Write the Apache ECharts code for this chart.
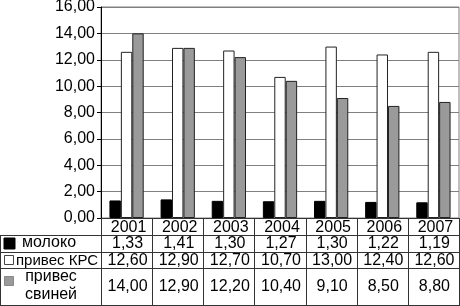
<!DOCTYPE html>
<html><head><meta charset="utf-8">
<script src="https://cdn.jsdelivr.net/npm/echarts@6/dist/echarts.min.js"></script>
<style>html,body{margin:0;padding:0;background:#fff}#c{width:460px;height:306px}</style>
</head><body><div id="c"></div>
<script>
var years = ['2001','2002','2003','2004','2005','2006','2007'];
var seriesNames = ['молоко','привес КРС','привес свиней'];
var milk = [1.33,1.41,1.30,1.27,1.30,1.22,1.19];
var cattle = [12.60,12.90,12.70,10.70,13.00,12.40,12.60];
var pigs = [14.00,12.90,12.20,10.40,9.10,8.50,8.80];
var yMin = 0, yMax = 16, yStep = 2;

var FONT = '"Liberation Sans", Arial, Helvetica, sans-serif';
var FS = 16, FSL = 15;
function fmt(v){ return v.toFixed(2).replace('.', ','); }

var chart = echarts.init(document.getElementById('c'), null, {renderer:'canvas'});
chart.setOption({
  animation:false,
  backgroundColor:'#fff',
  grid:{left:101, right:1, top:7, bottom:88, show:true, borderColor:'#808080', borderWidth:1, outerBoundsMode:'none', containLabel:false},
  xAxis:{type:'category', data:years, axisLine:{show:false}, axisTick:{show:false}, axisLabel:{show:false}, splitLine:{show:false}},
  yAxis:{type:'value', min:yMin, max:yMax, interval:yStep,
    axisLine:{show:true, lineStyle:{color:'#000', width:1}},
    axisTick:{show:true, length:4, lineStyle:{color:'#000'}},
    axisLabel:{formatter:function(v){return fmt(v);}, color:'#000', fontSize:FS, fontFamily:FONT, margin:6},
    splitLine:{show:true, lineStyle:{color:'#808080', width:1}}},
  series:[
    {name:seriesNames[0], type:'bar', data:milk, barGap:'0%', barCategoryGap:'33%', itemStyle:{color:'#000', borderColor:'#000', borderWidth:1}},
    {name:seriesNames[1], type:'bar', data:cattle, barGap:'0%', barCategoryGap:'33%', itemStyle:{color:'#fff', borderColor:'#222', borderWidth:1}},
    {name:seriesNames[2], type:'bar', data:pigs, barGap:'0%', barCategoryGap:'33%', itemStyle:{color:'#9a9a9a', borderColor:'#222', borderWidth:1}}
  ]
});

// table
var rightX = 459, leftX = 101;
var yAxisPx = Math.round(chart.convertToPixel({yAxisIndex:0}, 0));
var rowY = [yAxisPx, 235, 252, 268, 305];
var lc = '#333';
var g = [];
function hline(y, xa, xb){ g.push({type:'line', silent:true, shape:{x1:xa, y1:y+0.5, x2:xb, y2:y+0.5}, style:{stroke:lc, lineWidth:1}, z:100}); }
function vline(x, ya, yb){ g.push({type:'line', silent:true, shape:{x1:x+0.5, y1:ya, x2:x+0.5, y2:yb}, style:{stroke:lc, lineWidth:1}, z:100}); }
function txt(x, y, s, align, fs){ g.push({type:'text', silent:true, x:x, y:y, style:{text:s, fill:'#000', font:(fs||FS)+'px '+FONT, align:align||'center', verticalAlign:'middle'}, z:101}); }

hline(rowY[0], leftX, rightX+1);
hline(rowY[1], 0, rightX+1);
hline(rowY[2], 0, rightX+1);
hline(rowY[3], 0, rightX+1);
hline(rowY[4], 0, rightX+1);
vline(0, rowY[1], rowY[4]+1);
var step = (rightX - leftX) / years.length;
for (var i = 0; i <= years.length; i++) {
  var bx = Math.round(leftX + step * i);
  if (i === years.length) bx = rightX;
  vline(bx, rowY[0], rowY[4]+1);
}
var rows = [milk, cattle, pigs];
var rowCenters = [244, 260.5, 286.5];
for (var i = 0; i < years.length; i++) {
  var cx = chart.convertToPixel({xAxisIndex:0}, years[i]);
  txt(cx + 2, 228, years[i]);
  for (var r = 0; r < rows.length; r++) txt(cx + 1, rowCenters[r], fmt(rows[r][i]));
}
// legend keys
g.push({type:'rect', silent:true, shape:{x:4, y:238, width:11, height:11}, style:{fill:'#000', stroke:'#000'}, z:101});
g.push({type:'rect', silent:true, shape:{x:4.5, y:255.5, width:9, height:9}, style:{fill:'#fff', stroke:'#444', lineWidth:1}, z:101});
g.push({type:'rect', silent:true, shape:{x:4.5, y:276.5, width:9, height:9}, style:{fill:'#9a9a9a', stroke:'#888', lineWidth:1}, z:101});
txt(22, 243, seriesNames[0], 'left', 16);
txt(16, 260.5, seriesNames[1], 'left', FSL);
var pigParts = seriesNames[2].split(' ');
txt(51, 277, pigParts[0], 'center', 16);
txt(51, 295, pigParts[1], 'center', 16);
chart.setOption({graphic:g});
</script>
</body></html>
